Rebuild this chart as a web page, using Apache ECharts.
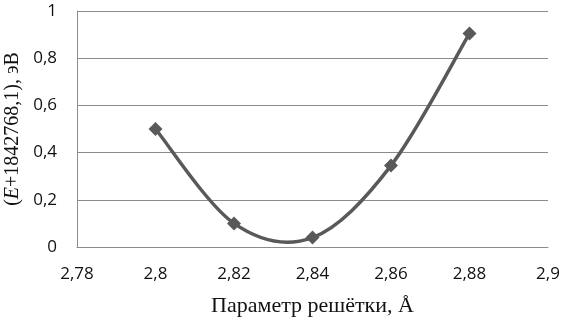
<!DOCTYPE html>
<html>
<head>
<meta charset="utf-8">
<script src="https://cdn.jsdelivr.net/npm/echarts@6/dist/echarts.min.js"></script>
<style>
  html, body { margin: 0; padding: 0; background: #fff; }
  #chart { width: 563px; height: 321px; }
</style>
</head>
<body>
<div id="chart"></div>
<script>
var chart = echarts.init(document.getElementById('chart'));

var latticeParam = [2.80, 2.82, 2.84, 2.86, 2.88];
var energy = [0.50, 0.10, 0.04, 0.345, 0.905];

var points = latticeParam.map(function (x, i) { return [x, energy[i]]; });

function comma(v, digits) {
  return String(+v.toFixed(digits)).replace('.', ',');
}

// office-style smoothed line: cubic bezier through the points (catmull-rom, 1/6)
function renderCurve(params, api) {
  var c = points.map(function (p) { return api.coord(p); });
  var d = 'M' + c[0][0] + ' ' + c[0][1];
  for (var i = 0; i < c.length - 1; i++) {
    var p0 = c[Math.max(i - 1, 0)], p1 = c[i], p2 = c[i + 1], p3 = c[Math.min(i + 2, c.length - 1)];
    var c1x = p1[0] + (p2[0] - p0[0]) / 6, c1y = p1[1] + (p2[1] - p0[1]) / 6;
    var c2x = p2[0] - (p3[0] - p1[0]) / 6, c2y = p2[1] - (p3[1] - p1[1]) / 6;
    d += ' C' + c1x + ' ' + c1y + ' ' + c2x + ' ' + c2y + ' ' + p2[0] + ' ' + p2[1];
  }
  return {
    type: 'path',
    shape: { pathData: d },
    style: { fill: null, stroke: '#595959', lineWidth: 3.5, lineJoin: 'round' }
  };
}

var option = {
  animation: false,
  backgroundColor: '#fff',
  grid: { left: 77, right: 15, top: 11, bottom: 74, containLabel: false, outerBoundsMode: 'none' },
  xAxis: {
    type: 'value',
    min: 2.78,
    max: 2.9,
    interval: 0.02,
    name: 'Параметр решётки, Å',
    nameLocation: 'middle',
    nameGap: 48,
    nameTextStyle: { fontFamily: 'Liberation Serif', fontSize: 22, color: '#111' },
    axisLine: { show: true, onZero: false, lineStyle: { color: '#8c8c8c', width: 1 } },
    axisTick: { show: false },
    splitLine: { show: false },
    axisLabel: {
      margin: 19,
      fontFamily: 'Open Sans',
      fontSize: 17,
      color: '#111',
      formatter: function (v) { return comma(v, 2); }
    }
  },
  yAxis: {
    type: 'value',
    min: 0,
    max: 1,
    interval: 0.2,
    name: '({i|E}+1842768,1), эВ',
    nameLocation: 'middle',
    nameRotate: 90,
    nameGap: 50,
    nameTextStyle: {
      fontFamily: 'Liberation Serif', fontSize: 20, color: '#111',
      rich: { i: { fontFamily: 'Liberation Serif', fontStyle: 'italic', fontSize: 20, color: '#111' } }
    },
    axisLine: { show: true, lineStyle: { color: '#8c8c8c', width: 1 } },
    axisTick: { show: false },
    splitLine: { show: true, lineStyle: { color: '#8c8c8c', width: 1 } },
    axisLabel: {
      margin: 20,
      fontFamily: 'Open Sans',
      fontSize: 17,
      color: '#111',
      formatter: function (v) { return comma(v, 1); }
    }
  },
  series: [{
    type: 'custom',
    renderItem: renderCurve,
    data: [[latticeParam[0], energy[0]]],
    silent: true,
    z: 2
  }, {
    type: 'line',
    data: points,
    symbol: 'diamond',
    symbolSize: 14,
    itemStyle: { color: '#595959' },
    lineStyle: { width: 0 },
    z: 3
  }]
};

chart.setOption(option);
</script>
</body>
</html>
